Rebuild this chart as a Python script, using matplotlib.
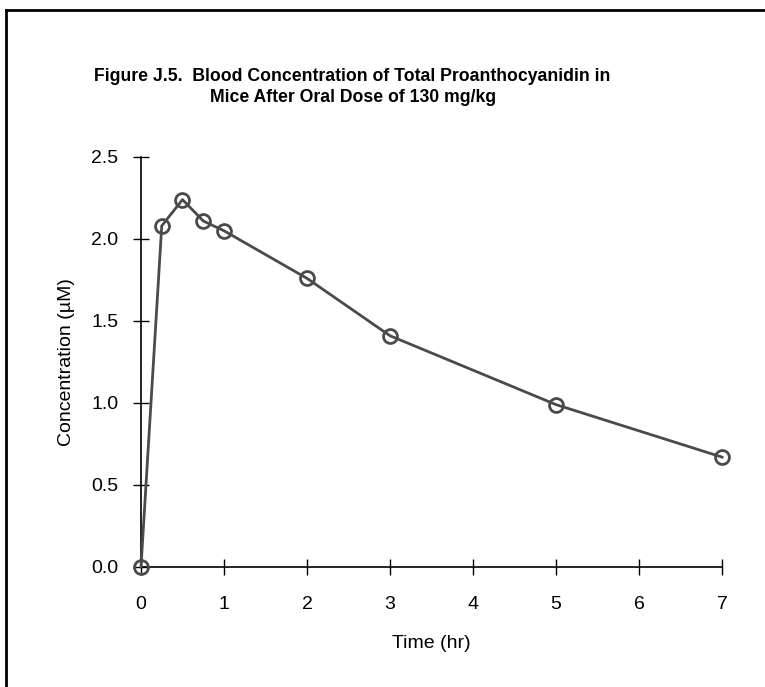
#!/usr/bin/env python
# Blood concentration of total proanthocyanidin, oral dose 130 mg/kg

import matplotlib as mpl
mpl.use('Agg')
import matplotlib.pyplot as plt
from matplotlib.lines import Line2D


timeHr = [0, 0.25, 0.5, 0.75, 1, 2, 3, 5, 7]
concentration = [0.0, 2.08, 2.24, 2.11, 2.05, 1.76, 1.41, 0.99, 0.67]
xTicks = [0, 1, 2, 3, 4, 5, 6, 7]
yTicks = [0.0, 0.5, 1.0, 1.5, 2.0, 2.5]

title = ("Figure J.5.  Blood Concentration of Total Proanthocyanidin in\n"
         "Mice After Oral Dose of 130 mg/kg")


def plotCurve(outputFile):
    plt.rcParams['font.family'] = ['Liberation Sans', 'DejaVu Sans']
    fig = plt.figure(figsize=(7.65, 6.87), dpi=100)
    ax = fig.add_axes([0.1843, 0.1747, 0.7595, 0.5968])

    ax.plot(timeHr, concentration, '-o', color='#4a4a4a', lw=2,
            ms=10, mfc='none', mec='#4a4a4a', mew=2, clip_on=False, zorder=5)

    ax.set_xlim(0, 7)
    ax.set_ylim(0, 2.5)
    ax.set_xticks(xTicks)
    ax.set_yticks(yTicks)
    ax.set_xticklabels([str(t) for t in xTicks])
    ax.set_yticklabels(["%.1f" % t for t in yTicks])
    ax.tick_params(direction='inout', length=11.5, width=1, labelsize=14,
                   color='black')
    ax.tick_params(axis='x', pad=15)
    ax.tick_params(axis='y', pad=10.5)

    for side in ['top', 'right']:
        ax.spines[side].set_visible(False)
    for side in ['left', 'bottom']:
        ax.spines[side].set_linewidth(1.2)

    ax.set_xlabel("Time (hr)", fontsize=14, labelpad=16)
    ax.set_ylabel("Concentration (\u00b5M)", fontsize=14, labelpad=12)

    fig.text(0.461, 0.874, title, ha='center', va='center', fontsize=12.7,
             fontweight='bold', multialignment='center', linespacing=1.3)

    # Frame round the whole figure (left and top edges)
    fig.add_artist(Line2D([6.5 / 765, 6.5 / 765], [0, 1 - 10 / 687],
                          color='black', lw=2, transform=fig.transFigure))
    fig.add_artist(Line2D([6.5 / 765, 1], [1 - 10 / 687, 1 - 10 / 687],
                          color='black', lw=2, transform=fig.transFigure))

    fig.savefig(outputFile, dpi=100)


if __name__ == '__main__':
    plotCurve("out.png")
